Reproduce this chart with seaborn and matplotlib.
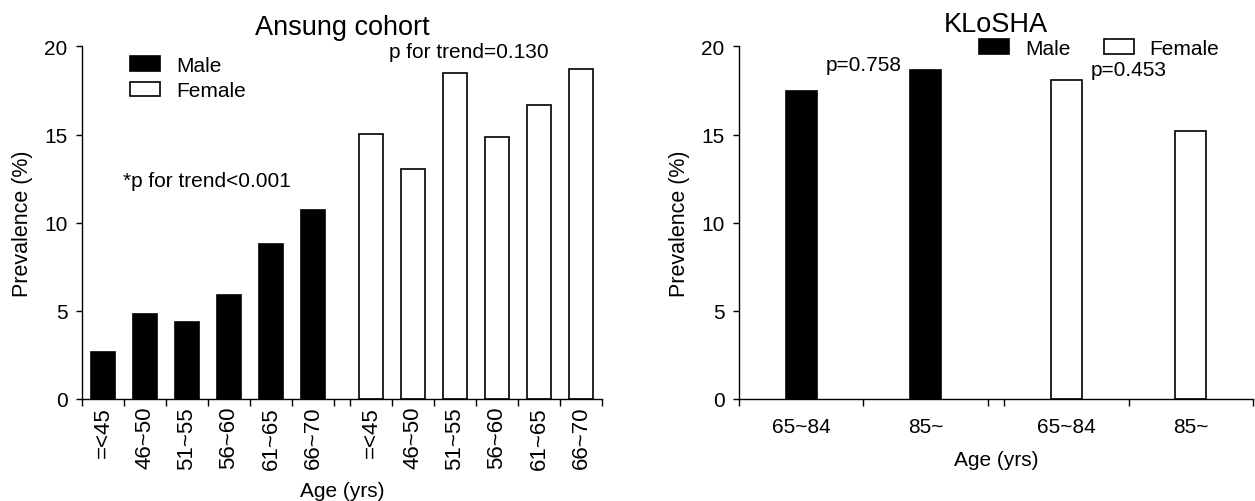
import numpy as np
import pandas as pd
import seaborn as sns
import matplotlib.pyplot as plt
from matplotlib.patches import Patch

# values
ansung_groups = ["=<45", "46~50", "51~55", "56~60", "61~65", "66~70"]
ansung_male = [2.64, 4.80, 4.38, 5.92, 8.82, 10.70]
ansung_female = [15.01, 13.04, 18.52, 14.88, 16.70, 18.71]

klosha_groups = ["65~84", "85~"]
klosha_male = [17.5, 18.65]
klosha_female = [18.10, 15.2]

sexes = ["Male", "Female"]
colors = {"Male": "black", "Female": "white"}


def make_frame(groups, male, female, gap):
    n = len(groups)
    rows = []
    for i, g in enumerate(groups):
        rows.append({"sex": "Male", "age": g, "pos": i, "value": male[i]})
    for i, g in enumerate(groups):
        rows.append({"sex": "Female", "age": g, "pos": n + gap + i, "value": female[i]})
    return pd.DataFrame(rows)


def draw_panel(ax, df, n, gap, width, rot, pad, xsize):
    sns.barplot(data=df, x="pos", y="value", hue="sex", hue_order=sexes,
                palette=colors, native_scale=True, dodge=False, width=width,
                saturation=1, edgecolor="black", linewidth=1.2, legend=False,
                ax=ax)
    bounds = list(np.arange(-0.5, n)) + list(np.arange(n - 0.5 + gap, 2 * n + gap))
    ax.set_xticks(bounds)
    ax.set_xticklabels([])
    ax.set_xticks(df["pos"], minor=True)
    ax.set_xticklabels(df["age"], minor=True, rotation=rot)
    ax.tick_params(axis="x", which="major", length=5, width=1)
    ax.tick_params(axis="x", which="minor", length=0, pad=pad, labelsize=xsize)
    ax.tick_params(axis="y", length=4.5, width=1, pad=6, labelsize=15)
    ax.set_xlim(-0.5, 2 * n - 0.5 + gap)
    ax.set_ylim(0, 20)
    ax.set_yticks([0, 5, 10, 15, 20])
    ax.set_ylabel("Prevalence (%)", fontsize=15.5, labelpad=8)
    sns.despine(ax=ax)
    for s in ["left", "bottom"]:
        ax.spines[s].set_linewidth(1)


sns.set_style("ticks", rc={"text.color": "black", "axes.labelcolor": "black",
                           "xtick.color": "black", "ytick.color": "black",
                           "axes.edgecolor": "black"})
plt.rcParams["font.family"] = ["Liberation Sans", "DejaVu Sans"]

fig = plt.figure(figsize=(12.55, 5.02), dpi=100)
ax1 = fig.add_axes([82 / 1255, 0.2032, 520 / 1255, 0.7022])
ax2 = fig.add_axes([739 / 1255, 0.2032, 514 / 1255, 0.7022])

# -------- Ansung cohort --------
gap1 = 0.38
df1 = make_frame(ansung_groups, ansung_male, ansung_female, gap1)
draw_panel(ax1, df1, len(ansung_groups), gap1, 0.56, 90, 5, 16)
ax1.set_title("Ansung cohort", fontsize=19.5, pad=9)
ax1.set_xlabel("Age (yrs)", fontsize=15, labelpad=9)
ax1.text(0.48, 12.4, "*p for trend<0.001", fontsize=15, va="center")
ax1.text(6.81, 19.7, "p for trend=0.130", fontsize=15, va="center")

handles = [Patch(facecolor=colors[s], edgecolor="black", linewidth=1.2, label=s) for s in sexes]
ax1.legend(handles=handles, loc="upper left", bbox_to_anchor=(130 / 1255, 1 - 57 / 502),
           bbox_transform=fig.transFigure, frameon=False, fontsize=15,
           handlelength=1.45, handleheight=0.7, handletextpad=0.75,
           borderpad=0, borderaxespad=0, labelspacing=0.3)

# -------- KLoSHA --------
gap2 = 0.133
df2 = make_frame(klosha_groups, klosha_male, klosha_female, gap2)
draw_panel(ax2, df2, len(klosha_groups), gap2, 0.25, 0, 13, 15)
ax2.set_title("KLoSHA", fontsize=19.5, pad=11)
ax2.set_xlabel("Age (yrs)", fontsize=15, labelpad=10)
ax2.text(0.195, 19.0, "p=0.758", fontsize=15, va="center")
ax2.text(2.33, 18.7, "p=0.453", fontsize=15, va="center")
ax2.legend(handles=handles, loc="upper left", bbox_to_anchor=(979 / 1255, 1 - 40 / 502),
           bbox_transform=fig.transFigure, frameon=False, fontsize=15, ncol=2,
           handlelength=1.45, handleheight=0.7, handletextpad=0.75,
           columnspacing=1.6, borderpad=0, borderaxespad=0)

fig.savefig("out.png", dpi=100)
